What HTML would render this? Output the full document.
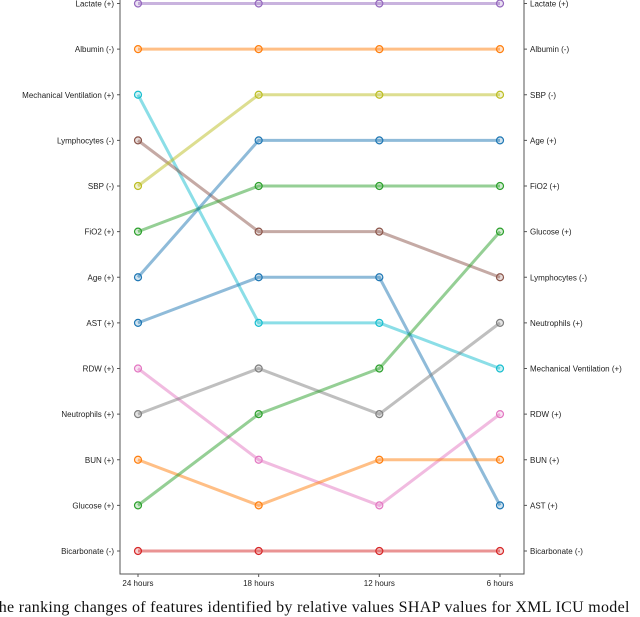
<!DOCTYPE html>
<html><head><meta charset="utf-8"><style>
html,body{margin:0;padding:0;background:#fff;width:640px;height:607px;overflow:hidden}
svg{display:block}
text{font-family:"Liberation Sans","DejaVu Sans",sans-serif;font-size:8px;fill:#222}
.cap{position:absolute;left:-6px;top:599px;width:660px;font:16px "Liberation Serif",serif;white-space:nowrap;color:#111;letter-spacing:0.3px}
</style></head><body>
<svg id="chart" width="640" height="607" viewBox="0 0 640 607"></svg>
<div class="cap">the ranking changes of features identified by relative values SHAP values for XML ICU model</div>
<script>
const timepoints = ["24 hours","18 hours","12 hours","6 hours"];
const features = ["Lactate (+)","Albumin (-)","Mechanical Ventilation (+)","Lymphocytes (-)","SBP (-)","FiO2 (+)","Age (+)","AST (+)","RDW (+)","Neutrophils (+)","BUN (+)","Glucose (+)","Bicarbonate (-)"];
const ranksLactate = [1,1,1,1];
const ranksAlbumin = [2,2,2,2];
const ranksMechVent = [3,8,8,9];
const ranksLymph = [4,6,6,7];
const ranksSBP = [5,3,3,3];
const ranksFiO2 = [6,5,5,5];
const ranksAge = [7,4,4,4];
const ranksAST = [8,7,7,12];
const ranksRDW = [9,11,12,10];
const ranksNeutro = [10,9,10,8];
const ranksBUN = [11,12,11,11];
const ranksGlucose = [12,10,9,6];
const ranksBicarb = [13,13,13,13];
const allRanks = [ranksLactate,ranksAlbumin,ranksMechVent,ranksLymph,ranksSBP,ranksFiO2,ranksAge,ranksAST,ranksRDW,ranksNeutro,ranksBUN,ranksGlucose,ranksBicarb];
const colors = ["#9467bd","#ff7f0e","#17becf","#8c564b","#bcbd22","#2ca02c","#1f77b4","#1f77b4","#e377c2","#7f7f7f","#ff7f0e","#2ca02c","#d62728"];

const NS="http://www.w3.org/2000/svg";
const svg=document.getElementById('chart');
const X0=138,X1=500,Y0=3.5,Y1=551;
const xs=i=>X0+(X1-X0)*i/(timepoints.length-1);
const ys=r=>Y0+(Y1-Y0)*(r-1)/12;
function mk(tag,attrs,parent){const e=document.createElementNS(NS,tag);for(const k in attrs)e.setAttribute(k,attrs[k]);(parent||svg).appendChild(e);return e;}

const frame=mk('path',{d:'M120,-5 V574 H524 V-5',fill:'none',stroke:'#555','stroke-width':1});



timepoints.forEach((t,i)=>{
  const tk=mk('line',{x1:xs(i),x2:xs(i),y1:574,y2:577,stroke:'#555'});
  
  
  const tx=mk('text',{x:xs(i),y:586,'text-anchor':'middle'});tx.textContent=t;
  
  
});

const rightLabels=[];
features.forEach((f,k)=>{rightLabels[allRanks[k][3]-1]=f;});
for(let r=1;r<=13;r++){
  const y=ys(r);
  mk('line',{x1:117,x2:120,y1:y,y2:y,stroke:'#555'});
  mk('line',{x1:524,x2:527,y1:y,y2:y,stroke:'#555'});
  const lk=features.findIndex((f,k)=>allRanks[k][0]===r);
  const lt=mk('text',{x:114,y:y+3,'text-anchor':'end'});lt.textContent=features[lk];
  
  
  const rt=mk('text',{x:530,y:y+3,'text-anchor':'start'});rt.textContent=rightLabels[r-1];
  
  
}

allRanks.forEach((rk,k)=>{
  const g=mk('g',{});
  
  
  const pts=rk.map((r,i)=>xs(i)+','+ys(r)).join(' ');
  mk('polyline',{points:pts,fill:'none',stroke:colors[k],'stroke-width':3,'stroke-opacity':0.5},g);
  rk.forEach((r,i)=>{
    const c=mk('circle',{cx:xs(i),cy:ys(r),r:3.5,fill:colors[k],'fill-opacity':0.2,stroke:colors[k],'stroke-width':1.2},g);
    
    
  });
});
</script>
</body></html>
